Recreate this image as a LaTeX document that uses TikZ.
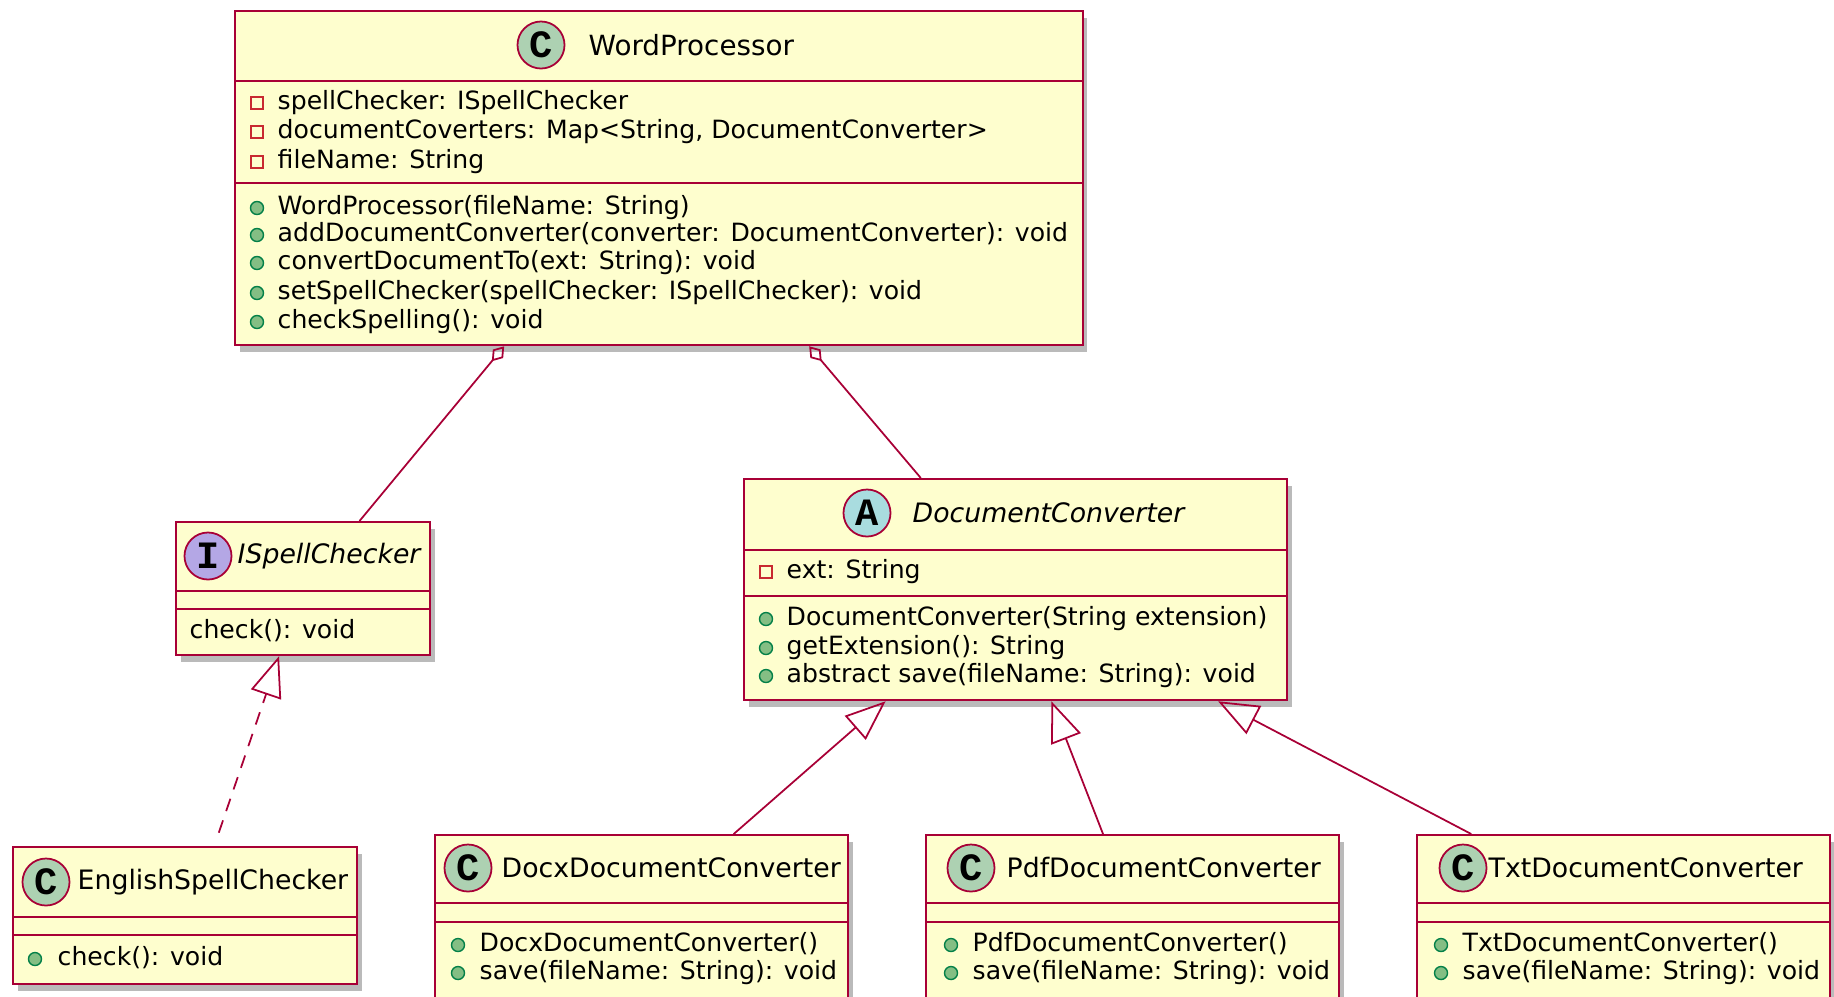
\documentclass[tikz,border=0pt]{standalone}
\usepackage{fontspec}
\setmainfont{DejaVu Sans}
\newfontfamily\spotfont{Liberation Mono}
\usetikzlibrary{calc,arrows.meta,shadows}
\definecolor{umlfill}{HTML}{FEFECE}
\definecolor{umlline}{HTML}{A80036}
\definecolor{cspot}{HTML}{ADD1B2}
\definecolor{ispot}{HTML}{B4A7E5}
\definecolor{aspot}{HTML}{A9DCDF}
\definecolor{privcol}{HTML}{C82930}
\definecolor{pubfill}{HTML}{84BE84}
\definecolor{publine}{HTML}{038048}

\tikzset{
  cls/.style={draw=umlline, fill=umlfill, line width=0.6pt, anchor=north west, inner sep=0pt,
    drop shadow={shadow xshift=1.4pt, shadow yshift=-2pt, fill=black!60, opacity=.45}},
  sep/.style={draw=umlline, line width=0.6pt},
  spot/.style={circle, draw=umlline, line width=0.5pt, minimum size=0.47cm, inner sep=0pt,
    font=\spotfont\bfseries\fontsize{11}{11}\selectfont},
  title/.style={anchor=west, inner sep=0pt, font=\fontsize{7.6}{9}\selectfont},
  mem/.style={anchor=west, inner sep=0pt, text height=5.3pt, text depth=1.5pt,
    font=\fontsize{7.15}{8.2}\selectfont},
  priv/.style={draw=privcol, line width=0.45pt, minimum size=0.12cm, inner sep=0pt},
  pub/.style={circle, draw=publine, fill=pubfill, line width=0.4pt, minimum size=0.13cm, inner sep=0pt},
  rel/.style={draw=umlline, line width=0.5pt},
  agg/.style={rel, {Diamond[open, length=5.5pt, width=3.8pt]}-},
  ext/.style={rel, -{Triangle[open, length=11.5pt, width=9pt]}},
  impl/.style={ext, dash pattern=on 3.7pt off 2.8pt},
}

\begin{document}
\begin{tikzpicture}[x=0.01cm, y=-0.01cm]
  \useasboundingbox (0,0) rectangle (1834,996);
  \clip (0,0) rectangle (1834,996);

  % WordProcessor
  \node[cls, minimum width=8.47cm, minimum height=3.34cm] (wp) at (234,10) {};
  \draw[sep] ($(wp.north west)+(0,71)$) -- ($(wp.north east)+(0,71)$);
  \draw[sep] ($(wp.north west)+(0,173)$) -- ($(wp.north east)+(0,173)$);
  \node[spot, fill=cspot] (wp-spot) at (541,45) {C};
  \node[title, font=\fontsize{7.9}{9}\selectfont] (wp-name) at (588,45) {WordProcessor};
  \foreach \y/\txt [count=\i] in {103/spellChecker: ISpellChecker,
      132/{documentCoverters: Map<String, DocumentConverter>}, 162/fileName: String} {
    \node[priv] (wp-p\i) at (257,\y) {};
    \node[mem] (wp-a\i) at (277,\y) {\txt};
  }
  \foreach \y/\txt [count=\i] in {208/WordProcessor(fileName: String),
      235/addDocumentConverter(converter: DocumentConverter): void,
      263/convertDocumentTo(ext: String): void,
      293/setSpellChecker(spellChecker: ISpellChecker): void,
      322/checkSpelling(): void} {
    \node[pub] (wp-q\i) at (257,\y) {};
    \node[mem] (wp-m\i) at (277,\y) {\txt};
  }

  % ISpellChecker
  \node[cls, minimum width=2.54cm, minimum height=1.33cm] (isc) at (175,521) {};
  \draw[sep] ($(isc.north west)+(0,70)$) -- ($(isc.north east)+(0,70)$);
  \draw[sep] ($(isc.north west)+(0,88)$) -- ($(isc.north east)+(0,88)$);
  \node[spot, fill=ispot] (isc-spot) at (208,556) {I};
  \node[title, font=\fontsize{7.6}{9}\selectfont\itshape] (isc-name) at (237,556) {ISpellChecker};
  \node[mem] (isc-m1) at (189,632) {check(): void};

  % EnglishSpellChecker
  \node[cls, minimum width=3.44cm, minimum height=1.37cm] (esc) at (12,846) {};
  \draw[sep] ($(esc.north west)+(0,71)$) -- ($(esc.north east)+(0,71)$);
  \draw[sep] ($(esc.north west)+(0,89)$) -- ($(esc.north east)+(0,89)$);
  \node[spot, fill=cspot] (esc-spot) at (46,882) {C};
  \node[title] (esc-name) at (77,882) {EnglishSpellChecker};
  \node[pub] (esc-q1) at (35,959) {};
  \node[mem] (esc-m1) at (57,959) {check(): void};

  % DocumentConverter
  \node[cls, minimum width=5.43cm, minimum height=2.21cm] (dc) at (743,478) {};
  \draw[sep] ($(dc.north west)+(0,72)$) -- ($(dc.north east)+(0,72)$);
  \draw[sep] ($(dc.north west)+(0,118)$) -- ($(dc.north east)+(0,118)$);
  \node[spot, fill=aspot] (dc-spot) at (867,513) {A};
  \node[title, font=\fontsize{7.6}{9}\selectfont\itshape] (dc-name) at (912,513) {DocumentConverter};
  \node[priv] (dc-p1) at (766,572) {};
  \node[mem] (dc-a1) at (786,572) {ext: String};
  \foreach \y/\txt [count=\i] in {619/DocumentConverter(String extension),
      648/getExtension(): String, 676/abstract save(fileName: String): void} {
    \node[pub] (dc-q\i) at (766,\y) {};
    \node[mem] (dc-m\i) at (786,\y) {\txt};
  }

  % concrete converters
  \foreach \n/\x/\sx/\tx/\mx/\name in {docx/434/468/501/458/Docx, pdf/925/971/1006/951/Pdf,
      txt/1416/1463/1488/1441/Txt} {
    \node[cls, minimum width=4.13cm, minimum height=1.75cm] (\n) at (\x,834) {};
    \draw[sep] ($(\n.north west)+(0,69)$) -- ($(\n.north east)+(0,69)$);
    \draw[sep] ($(\n.north west)+(0,88)$) -- ($(\n.north east)+(0,88)$);
    \node[spot, fill=cspot] (\n-spot) at (\sx,868) {C};
    \node[title] (\n-name) at (\tx,868) {\name DocumentConverter};
    \node[pub] (\n-q1) at (\mx,945) {};
    \node[mem] (\n-m1) at (\mx+21,945) {\name DocumentConverter()};
    \node[pub] (\n-q2) at (\mx,973) {};
    \node[mem] (\n-m2) at (\mx+21,973) {save(fileName: String): void};
  }

  % relations
  \draw[agg] ($(wp.south west)!0.318!(wp.south east)$) -- ($(isc.north west)!0.72!(isc.north east)$);
  \draw[agg] ($(wp.south west)!0.677!(wp.south east)$) -- ($(dc.north west)!0.326!(dc.north east)$);
  \draw[impl, shorten <=4pt] ($(esc.north west)!0.584!(esc.north east)$) -- ($(isc.south west)!0.406!(isc.south east)$);
  \draw[ext] ($(docx.north west)!0.7215!(docx.north east)$) -- ($(dc.south west)!0.2615!(dc.south east)$);
  \draw[ext] ($(pdf.north west)!0.4286!(pdf.north east)$) -- ($(dc.south west)!0.5654!(dc.south east)$);
  \draw[ext] ($(txt.north west)!0.133!(txt.north east)$) -- ($(dc.south west)!0.871!(dc.south east)$);
\end{tikzpicture}
\end{document}
